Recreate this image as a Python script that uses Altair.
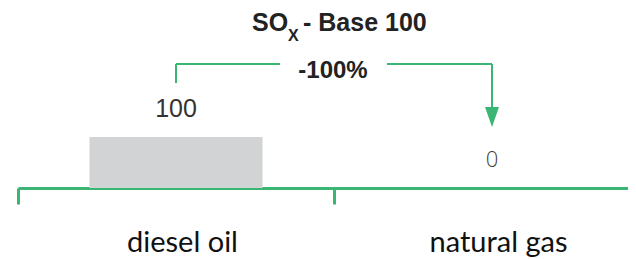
import altair as alt
import pandas as pd

# ---- data ----
categories = ["diesel oil", "natural gas"]
values = [100, 0]
value_labels = ["100", "0"]
title_main = ["SO"]
title_sub = ["X"]
title_rest = ["- Base 100"]
change_label = ["-100%"]

GREEN = "#3ab573"
GREY_BAR = "#d1d3d4"

df = pd.DataFrame({"fuel": categories, "value": values, "label": value_labels})

xscale = alt.Scale(domain=categories, range=[10, 642], paddingInner=0, paddingOuter=0)
yscale = alt.Scale(domain=[0, 353])

x_axis = alt.Axis(
    title=None, orient="bottom", domainColor=GREEN, domainWidth=3,
    tickColor=GREEN, tickWidth=3, tickSize=16, tickBand="extent",
    labelFont="Lato", labelFontSize=29, labelColor="#111111",
    labelPadding=47, labelBaseline="alphabetic", labelAngle=0, labelOffset=6,
    grid=False,
)


def X():
    return alt.X("fuel:N", scale=xscale, axis=x_axis, sort=categories)


base = alt.Chart(df)

bar = base.mark_bar(size=173, color=GREY_BAR).encode(
    x=X(), y=alt.Y("value:Q", scale=yscale, axis=None)
)

lbl100 = base.transform_filter(alt.datum.value > 0).mark_text(
    font="Liberation Sans", fontSize=25, color="#333333", baseline="alphabetic", dy=-20
).encode(x=X(), y=alt.Y("value:Q", scale=yscale, axis=None), text="label:N")

lbl0 = base.transform_filter(alt.datum.value == 0).mark_text(
    font="Open Sans", fontSize=22, fontWeight=300, color="#404040", baseline="alphabetic", dy=-21
).encode(x=X(), y=alt.Y("value:Q", scale=yscale, axis=None), text="label:N")

diesel = base.transform_filter(alt.datum.fuel == categories[0])
gas = base.transform_filter(alt.datum.fuel == categories[1])

left_vert = diesel.mark_rule(color=GREEN, strokeWidth=2).encode(
    x=X(), y=alt.value(56), y2=alt.value(75)
)
left_horiz = diesel.mark_rule(color=GREEN, strokeWidth=2).encode(
    x=X(), x2=alt.value(272), y=alt.value(56)
)
right_horiz = gas.mark_rule(color=GREEN, strokeWidth=2).encode(
    x=X(), x2=alt.value(379), y=alt.value(56)
)
right_vert = gas.mark_rule(color=GREEN, strokeWidth=2).encode(
    x=X(), y=alt.value(56), y2=alt.value(101)
)
arrow = gas.mark_point(
    shape="M-0.7,-1L0.7,-1L0,1Z", size=400, filled=True, color=GREEN, opacity=1, strokeWidth=0
).encode(x=X(), y=alt.value(109))

change = alt.Chart(pd.DataFrame({"t": change_label})).mark_text(
    font="Liberation Sans", fontSize=24, fontWeight="bold", color="#222222",
    baseline="alphabetic", align="center"
).encode(x=alt.value(325), y=alt.value(70), text="t:N")

t1 = alt.Chart(pd.DataFrame({"t": title_main})).mark_text(
    font="Liberation Sans", fontSize=25, fontWeight="bold", color="#222222",
    baseline="alphabetic", align="left"
).encode(x=alt.value(244), y=alt.value(23), text="t:N")
t2 = alt.Chart(pd.DataFrame({"t": title_sub})).mark_text(
    font="Liberation Sans", fontSize=16, fontWeight="bold", color="#222222",
    baseline="alphabetic", align="left"
).encode(x=alt.value(280), y=alt.value(33), text="t:N")
t3 = alt.Chart(pd.DataFrame({"t": title_rest})).mark_text(
    font="Liberation Sans", fontSize=25, fontWeight="bold", color="#222222",
    baseline="alphabetic", align="left"
).encode(x=alt.value(295), y=alt.value(23), text="t:N")

chart = alt.layer(
    bar, lbl100, lbl0, left_vert, left_horiz, right_horiz, right_vert, arrow,
    change, t1, t2, t3
).properties(
    width=620, height=180, autosize="none",
    padding={"left": 0, "top": 0, "right": 0, "bottom": 70},
).configure_view(strokeWidth=0)

chart.save("out.html", embed_options={"renderer": "svg", "actions": False})
